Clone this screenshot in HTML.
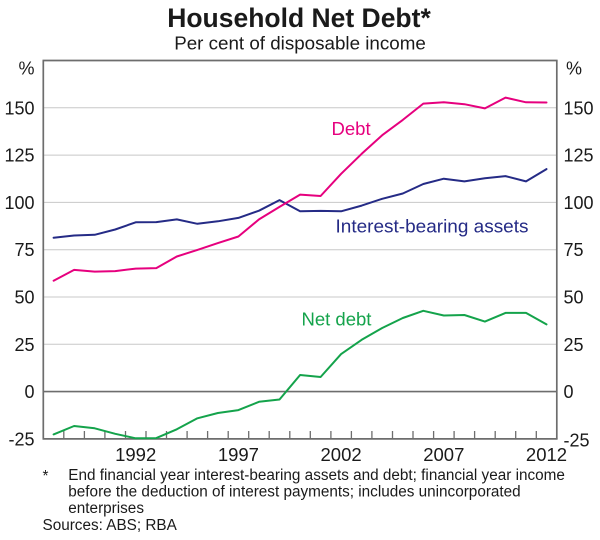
<!DOCTYPE html>
<html>
<head>
<meta charset="utf-8">
<style>
  html, body { margin:0; padding:0; background:#fff; }
  svg { display:block; }
  text { font-family: "Liberation Sans", Arial, sans-serif; fill:#1a1a1a; }
</style>
</head>
<body>
<svg width="600" height="540" viewBox="0 0 600 540" xmlns="http://www.w3.org/2000/svg">
  <!-- Title -->
  <text x="299" y="27" font-size="26.5" font-weight="bold" text-anchor="middle">Household Net Debt*</text>
  <text x="300" y="49.5" font-size="18.8" text-anchor="middle">Per cent of disposable income</text>

  <!-- gridlines -->
  <g stroke="#c8c8c8" stroke-width="1">
    <line x1="43.3" y1="107.8" x2="556.8" y2="107.8"/>
    <line x1="43.3" y1="155.1" x2="556.8" y2="155.1"/>
    <line x1="43.3" y1="202.4" x2="556.8" y2="202.4"/>
    <line x1="43.3" y1="249.7" x2="556.8" y2="249.7"/>
    <line x1="43.3" y1="297.0" x2="556.8" y2="297.0"/>
    <line x1="43.3" y1="344.3" x2="556.8" y2="344.3"/>
  </g>
  <!-- zero line -->
  <line x1="43.3" y1="391.6" x2="556.8" y2="391.6" stroke="#6d6d6d" stroke-width="1.6"/>

  <!-- frame -->
  <g stroke="#6d6d6d" stroke-width="1.7" fill="none">
    <line x1="42.5" y1="60.5" x2="557.6" y2="60.5"/>
    <line x1="43.3" y1="60.5" x2="43.3" y2="438.9"/>
    <line x1="556.8" y1="60.5" x2="556.8" y2="438.9"/>
    <line x1="42.5" y1="438.9" x2="557.6" y2="438.9"/>
  </g>

  <!-- x ticks -->
  <g stroke="#6d6d6d" stroke-width="1.3">
    <line x1="63.8" y1="438.9" x2="63.8" y2="431"/>
    <line x1="84.4" y1="438.9" x2="84.4" y2="431"/>
    <line x1="104.9" y1="438.9" x2="104.9" y2="431"/>
    <line x1="125.5" y1="438.9" x2="125.5" y2="431"/>
    <line x1="146.0" y1="438.9" x2="146.0" y2="431"/>
    <line x1="166.5" y1="438.9" x2="166.5" y2="431"/>
    <line x1="187.1" y1="438.9" x2="187.1" y2="431"/>
    <line x1="207.6" y1="438.9" x2="207.6" y2="431"/>
    <line x1="228.2" y1="438.9" x2="228.2" y2="431"/>
    <line x1="248.7" y1="438.9" x2="248.7" y2="431"/>
    <line x1="269.2" y1="438.9" x2="269.2" y2="431"/>
    <line x1="289.8" y1="438.9" x2="289.8" y2="431"/>
    <line x1="310.3" y1="438.9" x2="310.3" y2="431"/>
    <line x1="330.9" y1="438.9" x2="330.9" y2="431"/>
    <line x1="351.4" y1="438.9" x2="351.4" y2="431"/>
    <line x1="371.9" y1="438.9" x2="371.9" y2="431"/>
    <line x1="392.5" y1="438.9" x2="392.5" y2="431"/>
    <line x1="413.0" y1="438.9" x2="413.0" y2="431"/>
    <line x1="433.6" y1="438.9" x2="433.6" y2="431"/>
    <line x1="454.1" y1="438.9" x2="454.1" y2="431"/>
    <line x1="474.6" y1="438.9" x2="474.6" y2="431"/>
    <line x1="495.2" y1="438.9" x2="495.2" y2="431"/>
    <line x1="515.7" y1="438.9" x2="515.7" y2="431"/>
    <line x1="536.3" y1="438.9" x2="536.3" y2="431"/>
  </g>

  <!-- left y labels -->
  <g font-size="18" text-anchor="end">
    <text x="34.5" y="74.5">%</text>
    <text x="34.5" y="114.3">150</text>
    <text x="34.5" y="161.6">125</text>
    <text x="34.5" y="208.9">100</text>
    <text x="34.5" y="256.2">75</text>
    <text x="34.5" y="303.5">50</text>
    <text x="34.5" y="350.8">25</text>
    <text x="34.5" y="398.1">0</text>
    <text x="34.5" y="445.4">-25</text>
  </g>
  <!-- right y labels -->
  <g font-size="18" text-anchor="start">
    <text x="566" y="74.5">%</text>
    <text x="563.5" y="114.3">150</text>
    <text x="563.5" y="161.6">125</text>
    <text x="563.5" y="208.9">100</text>
    <text x="563.5" y="256.2">75</text>
    <text x="563.5" y="303.5">50</text>
    <text x="563.5" y="350.8">25</text>
    <text x="563.5" y="398.1">0</text>
    <text x="563.5" y="446.4">-25</text>
  </g>

  <!-- x labels -->
  <g font-size="18.5" text-anchor="middle">
    <text x="135.7" y="461">1992</text>
    <text x="238.4" y="461">1997</text>
    <text x="341.1" y="461">2002</text>
    <text x="443.8" y="461">2007</text>
    <text x="546.5" y="461">2012</text>
  </g>

  <!-- series -->
  <g fill="none" stroke-width="2" stroke-linejoin="round" stroke-linecap="round">
    <polyline stroke="#252b86" points="53.6,237.8 74.1,235.5 94.7,234.8 115.2,229.5 135.7,222.3 156.3,222.1 176.8,219.4 197.4,223.8 217.9,221.3 238.4,217.9 259.0,210.7 279.5,200.1 300.1,211.3 320.6,210.9 341.1,211.3 361.7,205.6 382.2,198.8 402.8,193.5 423.3,184.0 443.8,178.7 464.4,181.4 484.9,178.2 505.5,176.1 526.0,181.4 546.5,169.1"/>
    <polyline stroke="#e6007e" points="53.6,280.7 74.1,269.9 94.7,271.6 115.2,271.1 135.7,268.6 156.3,268.1 176.8,256.5 197.4,249.9 217.9,243.1 238.4,236.5 259.0,219.4 279.5,206.9 300.1,194.6 320.6,196.0 341.1,173.8 361.7,153.8 382.2,135.2 402.8,119.9 423.3,103.6 443.8,102.3 464.4,104.2 484.9,108.4 505.5,97.6 526.0,102.3 546.5,102.5"/>
    <polyline stroke="#14a34b" points="53.6,434.4 74.1,426.0 94.7,428.3 115.2,433.8 135.7,438.3 156.3,438.1 176.8,429.3 197.4,418.3 217.9,413.0 238.4,410.1 259.0,401.8 279.5,399.5 300.1,375.0 320.6,377.0 341.1,354.1 361.7,339.8 382.2,328.0 402.8,318.0 423.3,310.8 443.8,315.5 464.4,315.0 484.9,321.6 505.5,312.9 526.0,312.9 546.5,324.4"/>
  </g>

  <!-- series labels -->
  <text x="331.5" y="135" font-size="18.5" style="fill:#e6007e">Debt</text>
  <text x="335.5" y="232.7" font-size="18.5" textLength="193" lengthAdjust="spacingAndGlyphs" style="fill:#252b86">Interest-bearing assets</text>
  <text x="301.5" y="325.7" font-size="18.5" style="fill:#14a34b">Net debt</text>

  <!-- footnotes -->
  <g font-size="15.3">
    <text x="42.5" y="481">*</text>
    <text x="68.3" y="480">End financial year interest-bearing assets and debt; financial year income</text>
    <text x="68.3" y="496.5">before the deduction of interest payments; includes unincorporated</text>
    <text x="68.3" y="513">enterprises</text>
    <text x="42.5" y="530">Sources: ABS; RBA</text>
  </g>
</svg>
</body>
</html>
